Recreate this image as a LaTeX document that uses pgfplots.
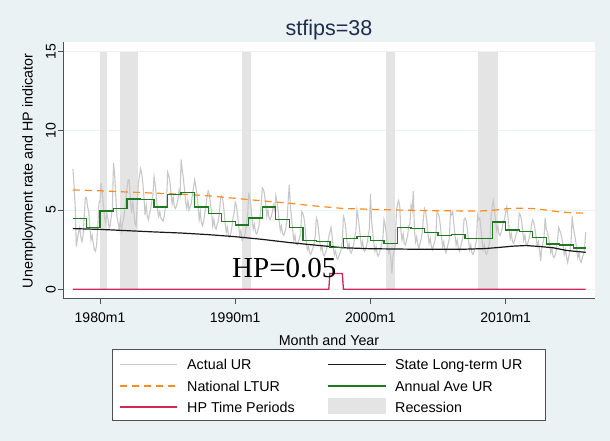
\documentclass[border=0pt]{standalone}
\usepackage{fontspec}
\setmainfont{Liberation Sans}
\newfontfamily\hpfont{Liberation Serif}
\usepackage{pgfplots}
\usepackage{pgfplotstable}
\pgfplotsset{compat=1.18}
\definecolor{bgc}{RGB}{234,242,243}
\definecolor{gridc}{RGB}{234,242,243}
\definecolor{axisc}{RGB}{80,80,80}
\definecolor{urgray}{RGB}{200,200,200}
\definecolor{ltorange}{RGB}{255,140,30}
\definecolor{ltblack}{RGB}{25,25,25}
\definecolor{avegreen}{RGB}{30,122,30}
\definecolor{hpred}{RGB}{210,40,85}
\definecolor{recc}{RGB}{228,228,228}
\definecolor{titlec}{RGB}{30,45,80}

% Actual UR, monthly 1978m1 -- 2015m12 (one line per year)
\pgfplotstableread[row sep=\\]{
ur\\
7.6\\6.5\\5.2\\2.7\\3.2\\3.6\\3.9\\3.3\\3.0\\3.4\\4.6\\5.8\\
5.8\\5.2\\4.9\\3.9\\3.1\\3.4\\2.9\\2.5\\2.4\\2.8\\3.9\\5.4\\
5.6\\6.7\\6.1\\5.3\\4.6\\4.2\\4.8\\4.5\\3.9\\4.0\\4.6\\5.1\\
8.0\\7.2\\5.9\\4.6\\4.2\\3.8\\4.4\\3.7\\4.1\\4.5\\5.0\\5.8\\
6.4\\6.9\\6.9\\5.6\\4.8\\5.6\\4.9\\4.1\\4.0\\5.3\\6.6\\7.2\\
7.6\\7.3\\6.7\\5.8\\4.7\\5.3\\4.6\\4.4\\4.8\\5.1\\5.6\\6.0\\
7.1\\6.6\\5.9\\5.0\\4.6\\4.9\\4.5\\4.4\\4.3\\4.6\\5.2\\5.3\\
7.4\\7.2\\6.8\\6.1\\5.4\\5.8\\5.2\\5.1\\5.3\\5.6\\6.2\\5.9\\
8.2\\7.5\\7.0\\6.3\\5.5\\5.1\\5.6\\5.0\\5.2\\5.4\\6.0\\6.4\\
6.9\\6.5\\6.0\\5.3\\4.4\\4.9\\4.2\\4.0\\4.3\\4.8\\5.2\\5.9\\
6.2\\6.0\\5.4\\4.9\\4.0\\4.4\\3.9\\3.8\\4.1\\4.3\\4.8\\5.8\\
5.9\\5.6\\5.0\\4.2\\3.6\\3.9\\3.4\\3.3\\3.5\\3.9\\4.5\\4.8\\
5.5\\5.3\\4.7\\4.0\\3.4\\3.7\\3.1\\3.2\\3.3\\3.6\\4.1\\4.7\\
6.0\\5.8\\5.2\\4.4\\3.8\\4.1\\3.6\\3.5\\3.7\\4.0\\4.6\\5.3\\
6.4\\6.3\\6.0\\5.4\\4.6\\5.0\\4.5\\4.4\\4.6\\4.9\\5.3\\5.0\\
5.9\\5.5\\5.0\\4.3\\3.7\\4.0\\3.5\\3.4\\3.6\\3.9\\4.4\\5.6\\
6.6\\5.2\\4.5\\3.7\\3.1\\3.4\\2.9\\2.8\\3.0\\3.2\\3.5\\4.9\\
4.8\\4.5\\3.9\\3.0\\2.5\\2.7\\2.3\\2.2\\2.4\\2.6\\2.9\\3.4\\
4.5\\4.3\\3.7\\3.0\\2.5\\2.7\\2.2\\2.1\\2.3\\2.5\\2.9\\3.3\\
3.6\\3.9\\3.3\\2.6\\2.2\\2.4\\2.0\\1.9\\2.1\\2.3\\2.5\\3.0\\
4.6\\4.4\\3.9\\3.1\\2.6\\2.9\\2.4\\2.3\\2.5\\2.8\\3.3\\3.6\\
5.0\\4.6\\4.0\\3.3\\2.7\\3.0\\2.5\\2.4\\2.6\\2.9\\3.4\\3.8\\
6.0\\4.3\\3.6\\2.9\\2.4\\2.7\\2.2\\2.1\\2.3\\2.6\\2.9\\3.2\\
4.4\\4.1\\3.5\\2.8\\2.3\\2.5\\2.0\\1.0\\2.1\\2.4\\2.8\\4.9\\
5.4\\5.6\\5.2\\3.7\\3.1\\3.5\\2.9\\2.8\\3.1\\3.4\\4.0\\4.1\\
5.3\\5.0\\6.2\\3.8\\3.0\\3.3\\2.8\\2.6\\2.9\\3.2\\3.6\\4.5\\
5.1\\4.9\\4.3\\3.5\\2.9\\3.2\\2.7\\2.5\\2.8\\3.0\\3.4\\4.9\\
4.8\\4.6\\4.0\\3.3\\2.7\\3.0\\2.5\\2.3\\2.6\\2.9\\3.2\\4.9\\
4.7\\4.9\\4.1\\3.4\\2.8\\3.1\\2.6\\2.4\\2.7\\3.0\\3.3\\4.4\\
4.5\\4.3\\3.8\\3.1\\2.5\\2.8\\2.3\\2.2\\2.4\\2.7\\3.1\\4.7\\
4.4\\4.5\\3.8\\3.1\\2.5\\2.8\\2.3\\2.2\\2.4\\2.7\\3.2\\4.5\\
5.3\\5.6\\5.0\\4.3\\3.7\\4.0\\3.5\\3.4\\3.6\\3.9\\4.3\\4.4\\
4.9\\5.2\\4.6\\3.8\\3.2\\3.5\\3.0\\2.9\\3.1\\3.4\\3.6\\3.8\\
4.8\\4.7\\4.4\\3.7\\3.1\\3.4\\2.9\\2.8\\3.0\\3.3\\3.6\\4.1\\
4.4\\4.2\\3.8\\3.3\\2.7\\3.0\\2.5\\1.8\\2.6\\2.9\\3.3\\4.5\\
3.8\\3.6\\3.3\\2.8\\2.3\\2.6\\2.1\\2.0\\2.2\\2.5\\3.1\\3.9\\
3.7\\3.5\\3.2\\2.7\\2.2\\2.5\\2.0\\1.7\\2.1\\2.4\\3.0\\4.6\\
3.9\\3.5\\3.1\\2.5\\2.0\\2.3\\1.8\\1.7\\2.0\\2.2\\2.6\\3.6\\
}\urtable

\begin{document}
\begin{tikzpicture}
\fill[bgc] (0,0) rectangle (610bp,441bp);
\path[use as bounding box] (0,0) rectangle (610bp,441bp);
\begin{axis}[
  at={(63bp,142.7bp)}, anchor=south west,
  scale only axis, width=532bp, height=256.3bp,
  xmin=1977.264, xmax=2016.603,
  ymin=-0.57, ymax=15.61,
  axis background/.style={fill=white},
  axis x line*=bottom, axis y line*=left,
  axis line style={axisc, line width=0.8bp},
  tick style={axisc, line width=0.8bp},
  tick align=outside, major tick length=5.5bp,
  xtick={1980,1990,2000,2010},
  xticklabels={1980m1,1990m1,2000m1,2010m1},
  ytick={0,5,10,15},
  ymajorgrids, major grid style={gridc, line width=0.8bp},
  /pgf/number format/assume math mode=true,
  tick label style={font=\fontsize{14bp}{16bp}\selectfont, text=black},
  yticklabel style={rotate=90, anchor=base},
  yticklabel shift=2bp,
  xticklabel style={anchor=base},
  xticklabel shift=19bp,
]
% recessions
\addplot[fill=recc, draw=none] coordinates {(1980.0,0) (1980.0,15) (1980.5,15) (1980.5,0)} -- cycle;
\addplot[fill=recc, draw=none] coordinates {(1981.5,0) (1981.5,15) (1982.833,15) (1982.833,0)} -- cycle;
\addplot[fill=recc, draw=none] coordinates {(1990.5,0) (1990.5,15) (1991.167,15) (1991.167,0)} -- cycle;
\addplot[fill=recc, draw=none] coordinates {(2001.167,0) (2001.167,15) (2001.833,15) (2001.833,0)} -- cycle;
\addplot[fill=recc, draw=none] coordinates {(2007.917,0) (2007.917,15) (2009.417,15) (2009.417,0)} -- cycle;
% actual UR
\addplot[draw=urgray, line width=1.1bp] table[x expr={1978+\coordindex/12}, y=ur] {\urtable};
% state long-term UR
\addplot[draw=ltblack, line width=1.2bp] coordinates {
(1978.0,3.83)(1980,3.78)(1982,3.70)(1984,3.62)(1986,3.55)(1988,3.45)(1990,3.32)
(1992,3.15)(1994,2.95)(1996,2.78)(1998,2.62)(2000,2.56)(2004,2.52)(2007,2.53)
(2008.5,2.57)(2009.5,2.64)(2010.5,2.72)(2011.5,2.76)(2012.5,2.70)(2013.5,2.62)
(2014.5,2.45)(2015.917,2.33)};
% national LTUR
\addplot[draw=ltorange, line width=1.2bp, dash pattern=on 7bp off 5bp] coordinates {
(1978,6.27)(1980,6.22)(1982,6.14)(1984,6.07)(1986,6.0)(1988,5.9)(1990,5.74)
(1992,5.58)(1994,5.43)(1996,5.25)(1998,5.1)(2000,5.05)(2002,5.0)(2004,4.97)
(2006,4.95)(2008,4.94)(2009,4.98)(2010,5.08)(2011,5.12)(2012,5.1)(2013,5.0)
(2014,4.88)(2015,4.82)(2015.917,4.8)};
% annual average UR
\addplot[draw=avegreen, line width=1.3bp, const plot] coordinates {
(1978,4.45)(1979,3.9)(1980,4.95)(1981,5.1)(1982,5.7)(1983,5.65)(1984,5.2)
(1985,6.0)(1986,6.1)(1987,5.2)(1988,4.8)(1989,4.3)(1990,4.05)(1991,4.5)
(1992,5.2)(1993,4.4)(1994,3.9)(1995,3.1)(1996,3.0)(1997,2.65)(1998,3.2)
(1999,3.35)(2000,3.1)(2001,2.9)(2002,3.9)(2003,3.85)(2004,3.6)(2005,3.4)
(2006,3.45)(2007,3.2)(2008,3.2)(2009,4.25)(2010,3.75)(2011,3.65)(2012,3.25)
(2013,2.85)(2014,2.8)(2015,2.6)(2015.917,2.6)};
% HP time periods
\addplot[draw=hpred, line width=1.3bp] coordinates {
(1978.0,0)(1996.917,0)(1997.0,1)(1997.917,1)(1998.0,0)(2015.917,0)};
\end{axis}
% titles
\node[anchor=base, text=titlec, font=\fontsize{21.5bp}{24bp}\selectfont, inner sep=0] at (329bp,405bp) {stfips=38};
\node[anchor=base, font=\fontsize{14.3bp}{17bp}\selectfont, inner sep=0] at (329bp,95bp) {Month and Year};
\node[anchor=base, rotate=90, font=\fontsize{14.3bp}{17bp}\selectfont, inner sep=0] at (32.5bp,270.2bp) {Unemployment rate and HP indicator};
\node[anchor=base west, font=\hpfont\fontsize{29bp}{32bp}\selectfont, inner sep=0] at (232bp,163.7bp) {HP=0.05};
% legend
\begin{scope}[every node/.style={anchor=base west, inner sep=0, font=\fontsize{14.3bp}{17bp}\selectfont}]
\draw[axisc, line width=0.6bp, fill=white] (112.7bp,20.3bp) rectangle (545bp,92bp);
\draw[urgray, line width=1.1bp] (120bp,76.7bp) -- (177bp,76.7bp);
\node at (187bp,71.5bp) {Actual UR};
\draw[ltblack, line width=1.2bp] (328bp,76.7bp) -- (386bp,76.7bp);
\node at (395bp,71.5bp) {State Long-term UR};
\draw[ltorange, line width=1.2bp, dash pattern=on 7bp off 5bp] (120bp,55bp) -- (177bp,55bp);
\node at (187bp,49.8bp) {National LTUR};
\draw[avegreen, line width=1.3bp] (328bp,55bp) -- (386bp,55bp);
\node at (395bp,49.8bp) {Annual Ave UR};
\draw[hpred, line width=1.3bp] (120bp,34bp) -- (177bp,34bp);
\node at (187bp,28.8bp) {HP Time Periods};
\fill[recc] (328bp,26.5bp) rectangle (386bp,42.5bp);
\node at (395bp,28.8bp) {Recession};
\end{scope}
\end{tikzpicture}
\end{document}
